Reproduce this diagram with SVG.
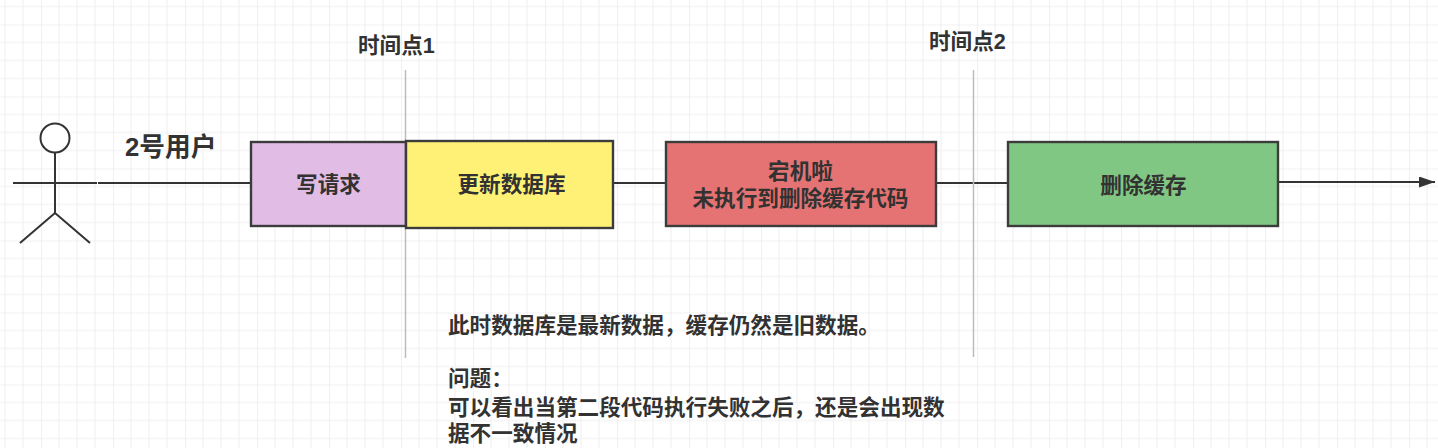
<svg xmlns="http://www.w3.org/2000/svg" width="1438" height="448" viewBox="0 0 1438 448">
<style>
text{font-family:"Liberation Sans","Noto Sans CJK SC",sans-serif;font-weight:700;fill:#323232;font-size:21.600px}
.n{text-anchor:middle}
.box{stroke:#3c3c3c;stroke-width:2.400}
.c{stroke:#333;stroke-width:2;fill:none}
.v{stroke:#bdbdbd;stroke-width:1.500;fill:none}
</style>
<defs>
<pattern id="g" width="72" height="72" patternUnits="userSpaceOnUse" x="41" y="24.500">
<path d="M18 0V72M36 0V72M54 0V72M0 18H72M0 36H72M0 54H72" stroke="#eeeeee" stroke-width="1" fill="none"/>
<path d="M0 0V72M0 0H72" stroke="#e2e2e2" stroke-width="1" fill="none"/>
</pattern>
<marker id="a" markerUnits="userSpaceOnUse" markerWidth="18" markerHeight="12" refX="16" refY="5.500" orient="auto"><path d="M0 0L16 5.500L0 11Z" fill="#333"/></marker>
</defs>
<rect width="1438" height="448" fill="#fff"/>
<rect width="1438" height="448" fill="url(#g)"/>
<g id="connectors">
<path class="c" d="M98 183H251"/>
<path class="c" d="M613 183H666"/>
<path class="c" d="M936 183H1008"/>
<path class="c" d="M1278 182H1435" marker-end="url(#a)"/>
<path class="v" d="M405.500 70V358"/>
<path class="v" d="M973.500 70V357"/>
</g>
<g id="actor" fill="none" stroke="#333" stroke-width="2">
<circle cx="55" cy="138" r="14.500" fill="#fff"/>
<path d="M55 153V213M13 183H97M55 213L20 243M55 213L90 243"/>
</g>
<text x="125" y="156" style="font-size:25.700px">2号用户</text>
<g id="t1"><text x="358" y="53">时间点1</text></g>
<g id="t2"><text x="929" y="49">时间点2</text></g>
<g id="write"><rect class="box" x="251" y="142" width="155" height="84" fill="#e1bde6"/><text class="n" x="328.500" y="192">写请求</text></g>
<g id="update"><rect class="box" x="406" y="141" width="207" height="87" fill="#fff176"/><text class="n" x="511.500" y="192">更新数据库</text></g>
<g id="crash"><rect class="box" x="666" y="142" width="270" height="84" fill="#e57373"/><text class="n" x="800.500" y="179">宕机啦</text><text class="n" x="800.500" y="206">未执行到删除缓存代码</text></g>
<g id="delete"><rect class="box" x="1008" y="142" width="270" height="84" fill="#81c784"/><text class="n" x="1143.500" y="193">删除缓存</text></g>
<g id="note">
<text x="448" y="333">此时数据库是最新数据，缓存仍然是旧数据。</text>
<text x="448" y="386">问题：</text>
<text x="448" y="415">可以看出当第二段代码执行失败之后，还是会出现数</text>
<text x="448" y="441">据不一致情况</text>
</g>
</svg>
